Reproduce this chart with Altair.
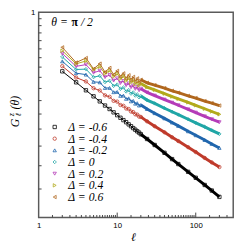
import altair as alt
import pandas as pd

# ---------------- data ----------------
ELL = [2, 3, 4, 5, 6, 7, 8, 9, 10, 11, 12, 13, 14, 15, 16, 17, 18, 19, 20,
       24, 30, 40, 50, 60, 80, 100, 130, 160, 200]

DELTAS = ["Δ = -0.6", "Δ = -0.4", "Δ = -0.2", "Δ = 0", "Δ = 0.2", "Δ = 0.4", "Δ = 0.6"]
SERIES_IDS = ["s0", "s1", "s2", "s3", "s4", "s5", "s6"]

G_M06 = [0.629, 0.577, 0.542, 0.517, 0.497, 0.481, 0.468, 0.456, 0.446, 0.437, 0.429, 0.422, 0.415, 0.409,
         0.403, 0.398, 0.393, 0.389, 0.384, 0.370, 0.353, 0.332, 0.316, 0.304, 0.286, 0.273, 0.258, 0.247, 0.235]
G_M04 = [0.655, 0.599, 0.581, 0.551, 0.541, 0.521, 0.515, 0.499, 0.496, 0.483, 0.480, 0.470, 0.468, 0.459,
         0.457, 0.449, 0.448, 0.441, 0.440, 0.425, 0.409, 0.390, 0.375, 0.364, 0.347, 0.334, 0.319, 0.308, 0.297]
G_M02 = [0.680, 0.620, 0.613, 0.579, 0.577, 0.552, 0.552, 0.534, 0.535, 0.519, 0.520, 0.507, 0.509, 0.497,
         0.499, 0.488, 0.490, 0.481, 0.483, 0.468, 0.453, 0.435, 0.421, 0.410, 0.393, 0.381, 0.367, 0.356, 0.345]
G_00 = [0.704, 0.638, 0.640, 0.601, 0.607, 0.578, 0.584, 0.561, 0.567, 0.548, 0.554, 0.537, 0.543, 0.528,
        0.533, 0.520, 0.525, 0.513, 0.518, 0.502, 0.489, 0.471, 0.458, 0.448, 0.432, 0.420, 0.407, 0.396, 0.385]
G_P02 = [0.723, 0.654, 0.663, 0.622, 0.632, 0.601, 0.611, 0.585, 0.595, 0.574, 0.583, 0.564, 0.572, 0.555,
         0.563, 0.548, 0.556, 0.542, 0.549, 0.533, 0.520, 0.504, 0.492, 0.482, 0.467, 0.455, 0.442, 0.432, 0.422]
G_P04 = [0.739, 0.667, 0.682, 0.638, 0.652, 0.618, 0.632, 0.604, 0.617, 0.593, 0.605, 0.584, 0.595, 0.576,
         0.586, 0.569, 0.579, 0.563, 0.572, 0.556, 0.544, 0.528, 0.516, 0.507, 0.493, 0.482, 0.469, 0.459, 0.449]
G_P06 = [0.759, 0.674, 0.698, 0.641, 0.668, 0.625, 0.646, 0.613, 0.631, 0.604, 0.619, 0.596, 0.610, 0.589,
         0.602, 0.583, 0.595, 0.578, 0.589, 0.575, 0.564, 0.551, 0.540, 0.532, 0.519, 0.510, 0.498, 0.490, 0.481]

SERIES = [G_M06, G_M04, G_M02, G_00, G_P02, G_P04, G_P06]

COLORS = ["#000000", "#bf3a2b", "#2066ad", "#20a6a6", "#b43bb8", "#b2aa1c", "#b0671e"]
SHAPES = ["square", "circle", "triangle-up", "diamond", "triangle-down", "triangle-right", "triangle-left"]

X_LABELS = [1, 10, 100]
Y_LABELS = [1]
X_MAJOR = [10, 100]
X_MINOR = [1.5, 2, 2.5, 3, 3.5, 4, 4.5, 5, 5.5, 6, 6.5, 7, 7.5, 8, 8.5, 9, 9.5,
           15, 20, 25, 30, 35, 40, 45, 50, 55, 60, 65, 70, 75, 80, 85, 90, 95,
           150, 200, 250]
Y_MINOR = [0.25, 0.3, 0.35, 0.4, 0.45, 0.5, 0.55, 0.6, 0.65, 0.7, 0.75, 0.8, 0.85, 0.9, 0.95]

rows = []
for lab, sid, vals in zip(DELTAS, SERIES_IDS, SERIES):
    for l, g in zip(ELL, vals):
        rows.append({"ell": l, "G": g, "delta": lab, "sid": sid})
df = pd.DataFrame(rows)

W, H = 200, 211
xscale = alt.Scale(type="log", domain=[1, 300], nice=False)
yscale = alt.Scale(type="log", domain=[0.2, 1], nice=False)

xaxis = alt.Axis(values=X_LABELS, format="~g", ticks=False, domain=False, grid=False,
                 labelFont="Liberation Sans", labelFontSize=8, labelColor="black",
                 labelPadding=4, labelFlush=False, title=None)
yaxis = alt.Axis(values=Y_LABELS, format="~g", ticks=False, domain=False, grid=False,
                 labelFont="Liberation Sans", labelFontSize=8, labelColor="black",
                 labelPadding=4, labelFlush=False, title=None)

legend = alt.Legend(title=None, orient="none", legendX=10.5, legendY=112,
                    labelFont="Liberation Serif", labelFontStyle="italic", labelFontSize=12,
                    labelColor="black", symbolSize=12, symbolStrokeWidth=0.8,
                    rowPadding=0, labelOffset=8, padding=0)

color_leg = alt.Color("delta:N", scale=alt.Scale(domain=DELTAS, range=COLORS), legend=legend)
shape_leg = alt.Shape("delta:N", scale=alt.Scale(domain=DELTAS, range=SHAPES), legend=legend)
stroke_noleg = alt.Stroke("sid:N", scale=alt.Scale(domain=SERIES_IDS, range=COLORS), legend=None)

X = alt.X("ell:Q", scale=xscale, axis=xaxis)
Y = alt.Y("G:Q", scale=yscale, axis=yaxis)

base = alt.Chart(df)
thin = base.mark_line(strokeWidth=1).encode(x=X, y=Y, stroke=stroke_noleg)
thick = base.transform_filter("datum.ell >= 20").mark_line(strokeWidth=3).encode(
    x=X, y=Y, stroke=stroke_noleg)
pts = base.mark_point(filled=False, size=12, strokeWidth=0.8, opacity=1).encode(
    x=X, y=Y, color=color_leg, shape=shape_leg)

xt_major = alt.Chart(pd.DataFrame({"v": X_MAJOR})).mark_rule(color="#444", strokeWidth=1).encode(
    x=alt.X("v:Q", scale=xscale, axis=xaxis), y=alt.value(H), y2=alt.value(H - 5))
xt_minor = alt.Chart(pd.DataFrame({"v": X_MINOR})).mark_rule(color="#444", strokeWidth=1).encode(
    x=alt.X("v:Q", scale=xscale, axis=xaxis), y=alt.value(H), y2=alt.value(H - 2.5))
yt_minor = alt.Chart(pd.DataFrame({"v": Y_MINOR})).mark_rule(color="#444", strokeWidth=1).encode(
    y=alt.Y("v:Q", scale=yscale, axis=yaxis), x=alt.value(0), x2=alt.value(3))

def label(txt, x, y, size=12, angle=0, style="italic", weight="normal", align="center"):
    return alt.Chart(pd.DataFrame({"t": [txt]})).mark_text(
        font="Liberation Serif", fontSize=size, fontStyle=style, fontWeight=weight,
        angle=angle, align=align, baseline="middle", color="black").encode(
        x=alt.value(x), y=alt.value(y), text="t:N")

an1 = label("θ =", 13, 10, size=12, align="left")
an2 = label("π", 37, 10, size=12, style="normal", weight="bold")
an3 = label("/ 2", 43.5, 10, size=12, align="left")
xtitle = label("ℓ", 97.5, 231, size=12)
yt_G = label("G", -24, 114, size=12, angle=270)
yt_z = label("z", -27.5, 105.5, size=8, angle=270)
yt_l = label("ℓ", -20, 105.5, size=8, angle=270)
yt_th = label("(θ)", -24, 93, size=12, angle=270)

chart = alt.layer(thin, thick, pts, xt_major, xt_minor, yt_minor,
                  an1, an2, an3, xtitle, yt_G, yt_z, yt_l, yt_th).properties(
    width=W, height=H,
    autosize=alt.AutoSizeParams(type="none"),
    padding={"left": 31.5, "top": 1, "right": 8, "bottom": 25},
).configure_view(stroke="#5a5a5a", strokeWidth=1.5)

chart.save("out.html", embed_options={"renderer": "svg", "actions": False})
